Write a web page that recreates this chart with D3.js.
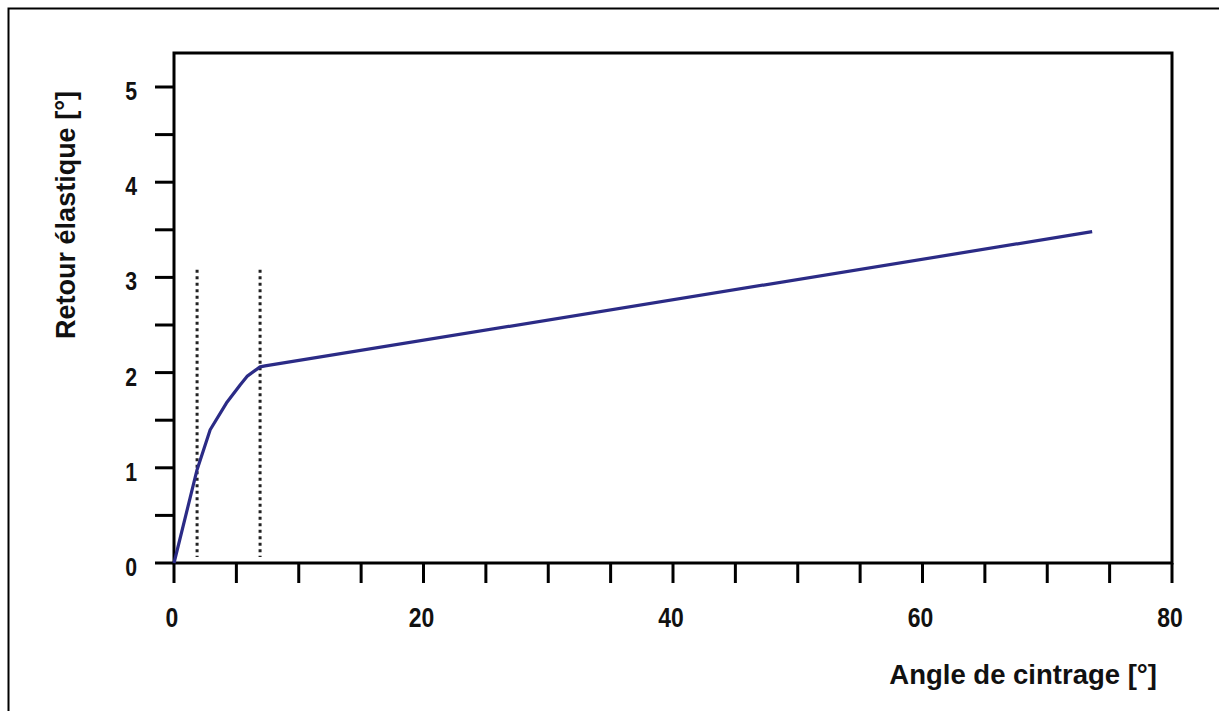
<!DOCTYPE html>
<html><head><meta charset="utf-8">
<script src="https://cdn.jsdelivr.net/npm/d3@7"></script>
<style>body{margin:0;background:#fff}svg{display:block}</style>
</head><body>
<script>
const angles = [0, 1.85, 2.9, 4.2, 5.3, 5.85, 6.9, 7.3, 73.6];
const springback = [0, 0.98, 1.4, 1.68, 1.87, 1.96, 2.06, 2.07, 3.48];
const markers = [1.85, 6.9];
const markerTop = 3.08;
const xTickLabels = [0, 20, 40, 60, 80];
const yTickLabels = [0, 1, 2, 3, 4, 5];
const xTitle = "Angle de cintrage [°]";
const yTitle = "Retour élastique [°]";

const W = 1219, H = 711;
const svg = d3.select("body").append("svg").attr("width", W).attr("height", H);
const font = "'Liberation Sans', Arial, sans-serif";

// outer border (cropped frame)
svg.append("path").attr("d", `M8.5,${H} V8.5 H${W}`).attr("fill","none").attr("stroke","#000").attr("stroke-width",2);

const x = d3.scaleLinear().domain([0, 80]).range([174, 1172]);
const y = d3.scaleLinear().domain([0, 5]).range([563, 87]);
const yTop = 53;

// plot frame
svg.append("rect").attr("x", x(0)).attr("y", yTop).attr("width", x(80)-x(0)).attr("height", y(0)-yTop)
  .attr("fill","none").attr("stroke","#000").attr("stroke-width",3);

// ticks
const g = svg.append("g");
d3.range(0, 80.01, 5).forEach(v => {
  g.append("line").attr("x1", x(v)).attr("x2", x(v)).attr("y1", y(0)).attr("y2", y(0)+20).attr("stroke","#000").attr("stroke-width",3);
});
d3.range(0, 5.01, 0.5).forEach(v => {
  g.append("line").attr("x1", x(0)-19).attr("x2", x(0)).attr("y1", y(v)).attr("y2", y(v)).attr("stroke","#000").attr("stroke-width",3);
});
xTickLabels.forEach(v => {
  g.append("text").attr("transform", `translate(${x(v)-2},627) scale(0.85,1)`).attr("text-anchor","middle")
    .attr("font-family", font).attr("font-weight","bold").attr("font-size",27).attr("fill","#111").text(v);
});
yTickLabels.forEach(v => {
  g.append("text").attr("transform", `translate(137,${y(v)+13}) scale(0.85,1)`).attr("text-anchor","end")
    .attr("font-family", font).attr("font-weight","bold").attr("font-size",25).attr("fill","#111").text(v);
});

// titles
svg.append("text").attr("x", 1157).attr("y", 684).attr("text-anchor","end")
  .attr("font-family", font).attr("font-weight","bold").attr("font-size",27.5).attr("fill","#111").text(xTitle);
svg.append("text").attr("transform", "translate(75,215) rotate(-90)").attr("text-anchor","middle")
  .attr("font-family", font).attr("font-weight","bold").attr("font-size",27).attr("fill","#111").text(yTitle);

// dotted markers
markers.forEach(m => {
  svg.append("line").attr("x1", x(m)).attr("x2", x(m)).attr("y1", y(markerTop)).attr("y2", y(0)-6)
    .attr("stroke","#222").attr("stroke-width",3).attr("stroke-dasharray","3,3.5");
});

// curve
const data = angles.map((a,i)=>[a, springback[i]]);
svg.append("path").datum(data)
  .attr("d", d3.line().x(d=>x(d[0])).y(d=>y(d[1])))
  .attr("fill","none").attr("stroke","#2b2b86").attr("stroke-width",3.2).attr("stroke-linejoin","round");
</script>
</body></html>
